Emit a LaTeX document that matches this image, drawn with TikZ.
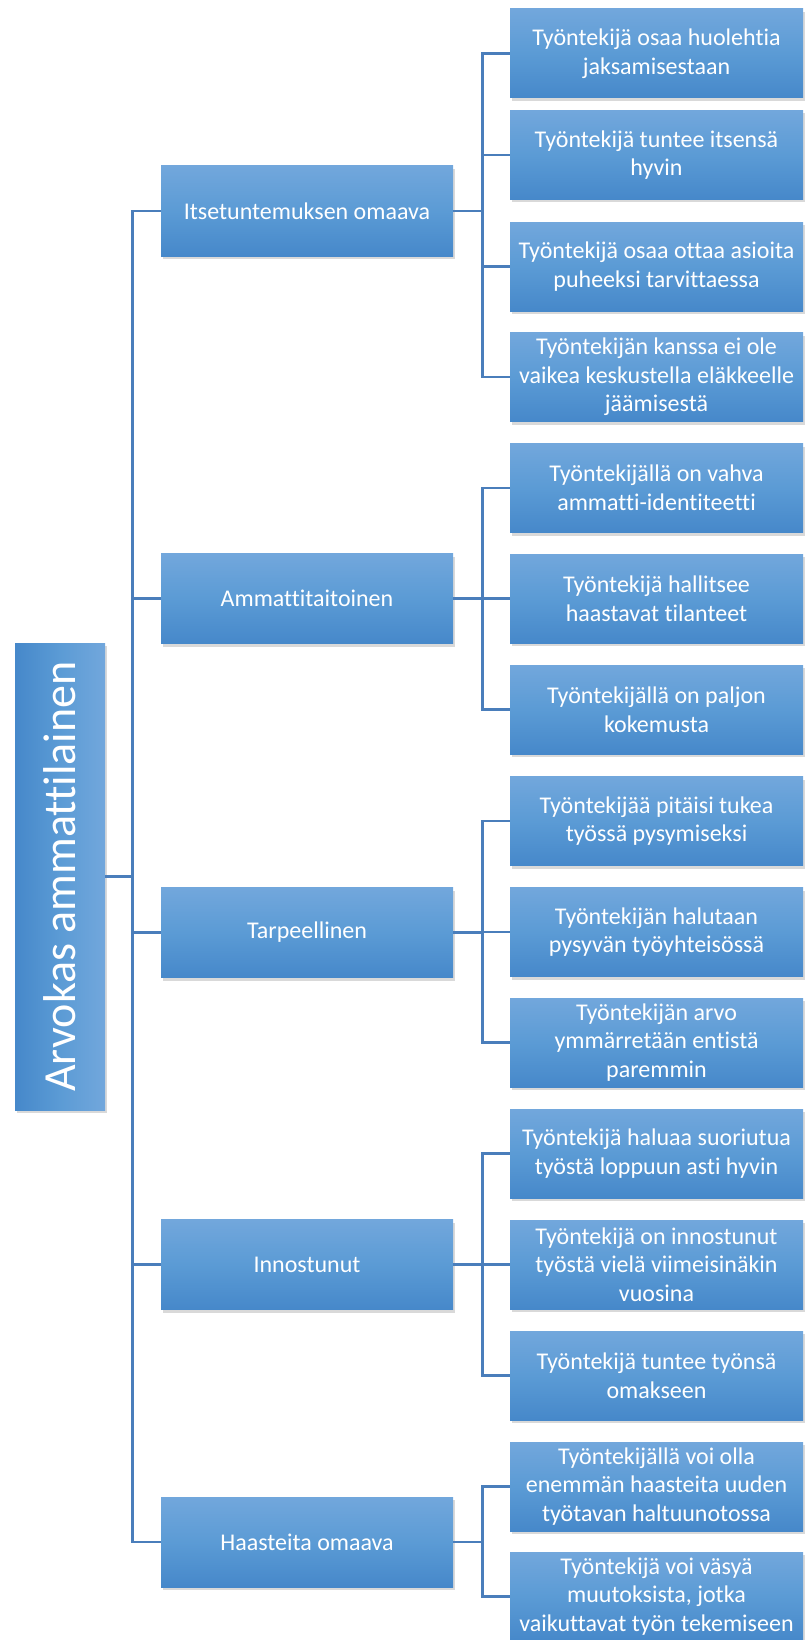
\documentclass[tikz,border=0pt]{standalone}
\usepackage{fontspec}
\setmainfont{Carlito}[Ligatures=NoCommon]
\usepackage{tikz}
\usetikzlibrary{shadows}
\definecolor{boxtop}{HTML}{72A7DC}
\definecolor{boxmid}{HTML}{5B9BD5}
\definecolor{boxbot}{HTML}{4688CA}
\definecolor{linkblue}{HTML}{4A7EBB}

\tikzset{
  box/.style={rectangle, top color=boxtop, bottom color=boxbot, middle color=boxmid,
    text=white, align=center, inner sep=2pt,
    drop shadow={shadow xshift=1.5pt, shadow yshift=-3pt, opacity=0.3}},
  leafbox/.style={box, minimum width=293pt, minimum height=89pt,
    font=\fontsize{24}{28.5}\selectfont},
  mainbox/.style={box, minimum width=292pt, minimum height=90pt,
    font=\fontsize{24}{28.5}\selectfont},
  link/.style={draw=linkblue, line width=2.8pt},
}

\begin{document}
\begin{tikzpicture}[x=1pt, y=-1pt]
    \useasboundingbox (0,0) rectangle (805,1640);

    % Juuri
    \node[box, rotate=90, minimum width=467pt, minimum height=90pt,
          left color=boxbot, right color=boxtop, middle color=boxmid,
          font=\fontsize{46}{50}\selectfont] (root) at (60,876.5) {Arvokas ammattilainen};

    % Pääkohdat
    \node[mainbox] (m1) at (307,211)    {Itsetuntemuksen omaava};
    \node[mainbox] (m2) at (307,598.5)  {Ammattitaitoinen};
    \node[mainbox] (m3) at (307,932.5)  {Tarpeellinen};
    \node[mainbox] (m4) at (307,1264.5) {Innostunut};
    \node[mainbox] (m5) at (307,1542)   {Haasteita omaava};

    % Alakohdat
    \node[leafbox] (l1)  at (656.5,53.5)   {Työntekijä osaa huolehtia\\jaksamisestaan};
    \node[leafbox] (l2)  at (656.5,155)    {Työntekijä tuntee itsensä\\hyvin};
    \node[leafbox] (l3)  at (656.5,266.5)  {Työntekijä osaa ottaa asioita\\puheeksi tarvittaessa};
    \node[leafbox] (l4)  at (656.5,377)    {Työntekijän kanssa ei ole\\vaikea keskustella eläkkeelle\\jäämisestä};
    \node[leafbox] (l5)  at (656.5,488)    {Työntekijällä on vahva\\ammatti-identiteetti};
    \node[leafbox] (l6)  at (656.5,598.5)  {Työntekijä hallitsee\\haastavat tilanteet};
    \node[leafbox] (l7)  at (656.5,709.5)  {Työntekijällä on paljon\\kokemusta};
    \node[leafbox] (l8)  at (656.5,821)    {Työntekijää pitäisi tukea\\työssä pysymiseksi};
    \node[leafbox] (l9)  at (656.5,932)    {Työntekijän halutaan\\pysyvän työyhteisössä};
    \node[leafbox] (l10) at (656.5,1042.5) {Työntekijän arvo\\ymmärretään entistä\\paremmin};
    \node[leafbox] (l11) at (656.5,1153.5) {Työntekijä haluaa suoriutua\\työstä loppuun asti hyvin};
    \node[leafbox] (l12) at (656.5,1264.5) {Työntekijä on innostunut\\työstä vielä viimeisinäkin\\vuosina};
    \node[leafbox] (l13) at (656.5,1375.5) {Työntekijä tuntee työnsä\\omakseen};
    \node[leafbox] (l14) at (656.5,1486.5) {Työntekijällä voi olla\\enemmän haasteita uuden\\työtavan haltuunotossa};
    \node[leafbox] (l15) at (656.5,1596.5) {Työntekijä voi väsyä\\muutoksista, jotka\\vaikuttavat työn tekemiseen};

    % Yhdysviivat
    \foreach \m in {m1,m2,m3,m4,m5}
        \draw[link] (root.south) -- ++(27,0) |- (\m.west);
    \foreach \m/\l in {m1/l1, m1/l2, m1/l3, m1/l4, m2/l5, m2/l6, m2/l7,
                       m3/l8, m3/l9, m3/l10, m4/l11, m4/l12, m4/l13, m5/l14, m5/l15}
        \draw[link] (\m.east) -- ++(29,0) |- (\l.west);
\end{tikzpicture}
\end{document}
